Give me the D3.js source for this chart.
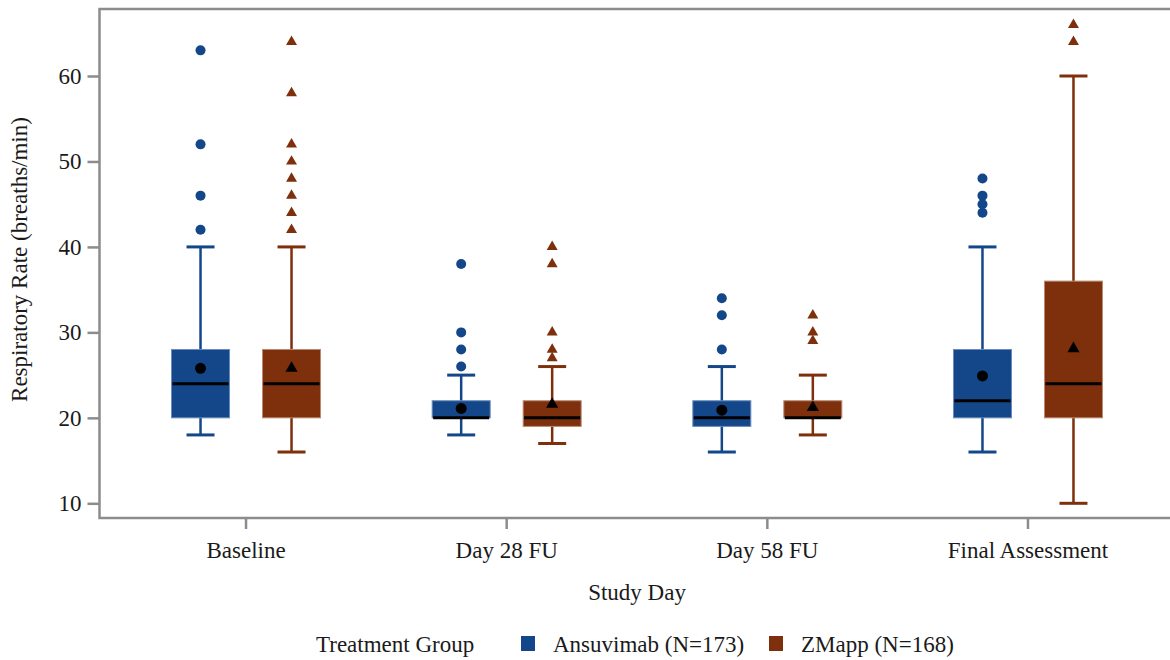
<!DOCTYPE html>
<html>
<head>
<meta charset="utf-8">
<script src="https://cdn.jsdelivr.net/npm/d3@7"></script>
<style>
  body { margin: 0; background: #fff; }
  svg text { font-family: "Liberation Serif", "Times New Roman", serif; fill: #1a1a1a; }
</style>
</head>
<body>
<svg id="viz" width="1170" height="660"></svg>
<script>
// categories
var studyDays = [ 'Baseline', 'Day 28 FU', 'Day 58 FU', 'Final Assessment' ];
var treatments = [ 'Ansuvimab (N=173)', 'ZMapp (N=168)' ];
var yTicks = [ 10, 20, 30, 40, 50, 60 ];

// Ansuvimab box stats per study day
var ansuvimabLow = [ 18, 18, 16, 16 ];
var ansuvimabQ1 = [ 20, 20, 19, 20 ];
var ansuvimabMedian = [ 24, 20, 20, 22 ];
var ansuvimabQ3 = [ 28, 22, 22, 28 ];
var ansuvimabHigh = [ 40, 25, 26, 40 ];
var ansuvimabMean = [ 25.8, 21.1, 20.9, 24.9 ];
var ansuvimabOutliers = [ [ 42, 46, 52, 63 ], [ 26, 28, 30, 38 ], [ 28, 32, 34 ], [ 44, 45, 46, 48 ] ];

// ZMapp box stats per study day
var zmappLow = [ 16, 17, 18, 10 ];
var zmappQ1 = [ 20, 19, 20, 20 ];
var zmappMedian = [ 24, 20, 20, 24 ];
var zmappQ3 = [ 28, 22, 22, 36 ];
var zmappHigh = [ 40, 26, 25, 60 ];
var zmappMean = [ 25.8, 21.6, 21.2, 28.1 ];
var zmappOutliers = [ [ 42, 44, 46, 48, 50, 52, 58, 64 ], [ 27, 28, 30, 38, 40 ], [ 29, 30, 32 ], [ 64, 66 ] ];

var colors = {
	'Ansuvimab (N=173)': { fill: '#13478a', edge: '#6a8cbb', symbol: 'circle' },
	'ZMapp (N=168)': { fill: '#7e2f0c', edge: '#b98a72', symbol: 'triangle' }
};

var build = function ( name, low, q1, med, q3, high, mean, outl ) {
	return studyDays.map( function ( day, i ) {
		return { day: day, group: name, low: low[i], q1: q1[i], med: med[i], q3: q3[i], high: high[i], mean: mean[i], outliers: outl[i] };
	} );
};

var data = build( treatments[0], ansuvimabLow, ansuvimabQ1, ansuvimabMedian, ansuvimabQ3, ansuvimabHigh, ansuvimabMean, ansuvimabOutliers )
	.concat( build( treatments[1], zmappLow, zmappQ1, zmappMedian, zmappQ3, zmappHigh, zmappMean, zmappOutliers ) );

var plot = { left: 99.5, right: 1174.5, top: 9, bottom: 518 };
var fontSize = '23px';
var svg = d3.select( '#viz' );

var xScale = d3.scaleBand()
	.domain( studyDays )
	.range( [ plot.left + 16.2, plot.right - 16.2 ] );
var offset = d3.scalePoint()
	.domain( treatments )
	.range( [ -45.5, 45.5 ] );
var yScale = d3.scaleLinear()
	.domain( [ 8.28, 67.84 ] )
	.range( [ plot.bottom, plot.top ] );

var cx = function ( d ) { return xScale( d.day ) + xScale.bandwidth() / 2 + offset( d.group ); };
var boxW = 58, capW = 28;

// axes
var yAxis = svg.append( 'g' )
	.attr( 'transform', 'translate(' + plot.left + ',0)' )
	.call( d3.axisLeft( yScale ).tickValues( yTicks ).tickSize( 12 ).tickPadding( 6 ) );
var xAxis = svg.append( 'g' )
	.attr( 'transform', 'translate(0,' + plot.bottom + ')' )
	.call( d3.axisBottom( xScale ).tickSize( 11 ).tickPadding( 13 ) );
[ yAxis, xAxis ].forEach( function ( g ) {
	g.attr( 'font-family', null ).attr( 'font-size', null );
	g.select( '.domain' ).remove();
	g.selectAll( 'line' ).attr( 'stroke', '#8c8c8c' ).attr( 'stroke-width', 2.5 );
	g.selectAll( 'text' ).style( 'font-size', fontSize ).attr( 'fill', '#1a1a1a' );
} );

// frame
svg.append( 'rect' )
	.attr( 'x', plot.left ).attr( 'y', plot.top )
	.attr( 'width', plot.right - plot.left ).attr( 'height', plot.bottom - plot.top )
	.attr( 'fill', 'none' ).attr( 'stroke', '#8c8c8c' ).attr( 'stroke-width', 2.5 );

var boxes = svg.append( 'g' ).selectAll( 'g' )
	.data( data )
	.enter()
	.append( 'g' );

// whiskers
boxes.append( 'line' )
	.attr( 'x1', cx ).attr( 'x2', cx )
	.attr( 'y1', function ( d ) { return yScale( d.low ); } )
	.attr( 'y2', function ( d ) { return yScale( d.high ); } )
	.attr( 'stroke', function ( d ) { return colors[d.group].fill; } )
	.attr( 'stroke-width', 2.5 );
[ 'low', 'high' ].forEach( function ( k ) {
	boxes.append( 'line' )
		.attr( 'x1', function ( d ) { return cx( d ) - capW / 2; } )
		.attr( 'x2', function ( d ) { return cx( d ) + capW / 2; } )
		.attr( 'y1', function ( d ) { return yScale( d[k] ); } )
		.attr( 'y2', function ( d ) { return yScale( d[k] ); } )
		.attr( 'stroke', function ( d ) { return colors[d.group].fill; } )
		.attr( 'stroke-width', 3 );
} );

// boxes
boxes.append( 'rect' )
	.attr( 'x', function ( d ) { return cx( d ) - boxW / 2; } )
	.attr( 'y', function ( d ) { return yScale( d.q3 ); } )
	.attr( 'width', boxW )
	.attr( 'height', function ( d ) { return yScale( d.q1 ) - yScale( d.q3 ); } )
	.attr( 'fill', function ( d ) { return colors[d.group].fill; } )
	.attr( 'stroke', function ( d ) { return colors[d.group].edge; } )
	.attr( 'stroke-width', 1 );

// median
boxes.append( 'line' )
	.attr( 'x1', function ( d ) { return cx( d ) - boxW / 2 + 1; } )
	.attr( 'x2', function ( d ) { return cx( d ) + boxW / 2 - 1; } )
	.attr( 'y1', function ( d ) { return yScale( d.med ); } )
	.attr( 'y2', function ( d ) { return yScale( d.med ); } )
	.attr( 'stroke', '#000' )
	.attr( 'stroke-width', 3 );

var triangle = function ( size ) { return d3.symbol().type( d3.symbolTriangle ).size( size )(); };

// mean markers
boxes.each( function ( d ) {
	var g = d3.select( this );
	if ( colors[d.group].symbol === 'circle' ) {
		g.append( 'circle' ).attr( 'cx', cx( d ) ).attr( 'cy', yScale( d.mean ) ).attr( 'r', 5.5 ).attr( 'fill', '#000' );
	} else {
		g.append( 'path' ).attr( 'd', triangle( 64 ) )
			.attr( 'transform', 'translate(' + cx( d ) + ',' + yScale( d.mean ) + ')' )
			.attr( 'fill', '#000' );
	}
	// outliers
	d.outliers.forEach( function ( v ) {
		if ( colors[d.group].symbol === 'circle' ) {
			g.append( 'circle' ).attr( 'cx', cx( d ) ).attr( 'cy', yScale( v ) ).attr( 'r', 5 ).attr( 'fill', colors[d.group].fill );
		} else {
			g.append( 'path' ).attr( 'd', triangle( 52 ) )
				.attr( 'transform', 'translate(' + cx( d ) + ',' + yScale( v ) + ')' )
				.attr( 'fill', colors[d.group].fill );
		}
	} );
} );

// axis titles
svg.append( 'text' )
	.attr( 'transform', 'translate(27,' + ( ( plot.top + plot.bottom ) / 2 - 4 ) + ') rotate(-90)' )
	.attr( 'text-anchor', 'middle' )
	.style( 'font-size', fontSize )
	.text( 'Respiratory Rate (breaths/min)' );
svg.append( 'text' )
	.attr( 'x', ( plot.left + plot.right ) / 2 )
	.attr( 'y', 600 )
	.attr( 'text-anchor', 'middle' )
	.style( 'font-size', fontSize )
	.text( 'Study Day' );

// legend
var legend = svg.append( 'g' ).attr( 'transform', 'translate(0,652)' );
legend.append( 'text' ).attr( 'x', 316 ).attr( 'y', 0 ).style( 'font-size', fontSize ).text( 'Treatment Group' );
var legendX = [ 521, 769 ];
treatments.forEach( function ( t, i ) {
	legend.append( 'rect' )
		.attr( 'x', legendX[i] ).attr( 'y', -16 )
		.attr( 'width', 14 ).attr( 'height', 15 )
		.attr( 'fill', colors[t].fill );
	legend.append( 'text' )
		.attr( 'x', legendX[i] + 32 ).attr( 'y', 0 )
		.style( 'font-size', fontSize )
		.text( t );
} );
</script>
</body>
</html>
